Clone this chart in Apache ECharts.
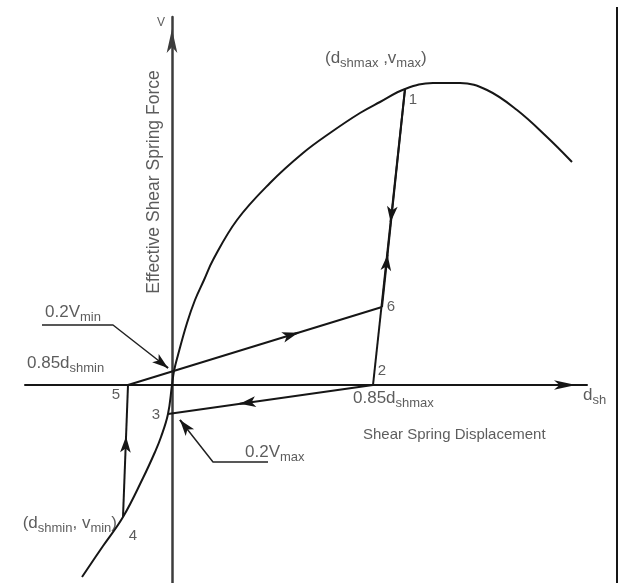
<!DOCTYPE html>
<html>
<head>
<meta charset="utf-8">
<script src="https://cdn.jsdelivr.net/npm/echarts@6/dist/echarts.min.js"></script>
<style>
html, body { margin: 0; padding: 0; background: #fff; }
#chart { width: 628px; height: 583px; }
</style>
</head>
<body>
<div id="chart"></div>
<script>
// backbone curve, shear displacement d and force v (diagram units)
var backboneD = [-9.0, -6.9, -4.9, -2.9, -1.7, -1.1, -0.4, 0, 0.2, 0.6, 1.5, 2.3, 3.2, 4.1, 6.5, 9.8, 13.1, 15.8, 18.8, 20.8, 23.3, 26.1, 28.8, 31.5, 34.5, 37.5, 40.0];
var backboneV = [-19.2, -16.1, -13.2, -9.3, -6.7, -5.2, -2.9, 0, 1.4, 3.0, 6.2, 8.5, 10.5, 12.5, 16.5, 20.2, 23.2, 25.2, 27.2, 28.3, 29.6, 30.2, 30.2, 29.5, 27.5, 24.8, 22.3];

// numbered points of the loop
var pointNames = ['1', '2', '3', '4', '5', '6'];
var pointD = [23.3, 20.1, -0.4, -4.9, -4.4, 21.0];
var pointV = [29.6, 0, -2.9, -13.2, 0, 7.8];

// straight legs of the loop (indices into the points) and where the direction arrow sits
var legFrom = [0, 1, 3, 4, 5];
var legTo = [1, 2, 4, 5, 0];
var arrowAt = [0.45, 0.65, 0.61, 0.67, 0.24];

// leader lines of the 0.2V notes
var leaderMinD = [-13.0, -5.9, -0.4];
var leaderMinV = [6.0, 6.0, 1.7];
var leaderMaxD = [9.6, 4.1, 0.8];
var leaderMaxV = [-7.7, -7.7, -3.5];

var chart = echarts.init(document.getElementById('chart'));

var ink = '#161616';
var textColor = '#333';
var font = '"Liberation Sans", Arial, Helvetica, sans-serif';

function pairs(ds, vs) {
    return ds.map(function (d, i) { return [d, vs[i]]; });
}

var rich = {
    m: { fontSize: 17, lineHeight: 24, verticalAlign: 'middle', color: textColor, fontFamily: font },
    s: { fontSize: 13, lineHeight: 10, verticalAlign: 'bottom', color: textColor, fontFamily: font }
};

// arrow head sitting on a segment, pointing from a to b
function arrowMark(x0, y0, x1, y1, t) {
    var dx = x1 - x0, dy = y1 - y0;
    var len = Math.sqrt(dx * dx + dy * dy);
    var tx = x0 + dx * t, ty = y0 + dy * t;
    return [{ coord: [tx - dx / len * 0.6, ty - dy / len * 0.6] }, { coord: [tx, ty] }];
}

var legSeries = legFrom.map(function (a, k) {
    var b = legTo[k];
    return {
        type: 'line',
        data: [[pointD[a], pointV[a]], [pointD[b], pointV[b]]],
        symbol: 'none',
        lineStyle: { color: ink, width: 2 },
        silent: true
    };
});

var arrows = legFrom.map(function (a, k) {
    var b = legTo[k];
    return arrowMark(pointD[a], pointV[a], pointD[b], pointV[b], arrowAt[k]);
});
var n = leaderMinD.length - 1;
arrows.push(arrowMark(leaderMinD[n - 1], leaderMinV[n - 1], leaderMinD[n], leaderMinV[n], 1));
arrows.push(arrowMark(leaderMaxD[n - 1], leaderMaxV[n - 1], leaderMaxD[n], leaderMaxV[n], 1));

function note(d, v, text, extra) {
    var label = { show: true, position: 'right', distance: 0, formatter: text, rich: rich };
    for (var k in extra) label[k] = extra[k];
    return { value: [d, v], label: label };
}

var notes = [
    note(-1.1, 36.2, '{v|V}', { position: 'inside', rich: { v: { fontSize: 12, color: textColor, fontFamily: font } } }),
    note(-1.8, 20.3, '{t|Effective Shear Spring Force}', { position: 'inside', rotate: 90, rich: { t: { fontSize: 17.5, color: textColor, fontFamily: font } } }),
    note(15.3, 32.7, '{m|(d}{s|shmax}{m| ,v}{s|max}{m|)}'),
    note(18.1, -1.3, '{m|0.85d}{s|shmax}'),
    note(41.1, -1.0, '{m|d}{s|sh}'),
    note(19.1, -5.0, '{t|Shear Spring Displacement}', { rich: { t: { fontSize: 15, color: textColor, fontFamily: font } } }),
    note(-12.7, 7.3, '{m|0.2V}{s|min}'),
    note(-14.5, 2.2, '{m|0.85d}{s|shmin}'),
    note(7.3, -6.7, '{m|0.2V}{s|max}'),
    note(-5.5, -13.8, '{m|(d}{s|shmin}{m|, v}{s|min}{m|)}', { position: 'left' })
];

var pointOffsets = [[8, 11], [9, -14], [-12, 1], [10, 19], [-12, 10], [9, 0]];

var option = {
    animation: false,
    backgroundColor: '#fff',
    grid: { left: 25, right: 41, top: 17, bottom: 0, outerBoundsMode: 'none' },
    xAxis: {
        type: 'value', min: -14.7, max: 41.5,
        axisLine: { onZero: true, lineStyle: { color: ink, width: 2 }, symbol: ['none', 'arrow'], symbolSize: [7, 22], symbolOffset: [0, -11] },
        axisTick: { show: false }, axisLabel: { show: false }, splitLine: { show: false }
    },
    yAxis: {
        type: 'value', min: -19.8, max: 36.8,
        axisLine: { onZero: true, lineStyle: { color: '#3c3c3c', width: 2.5 }, symbol: ['none', 'arrow'], symbolSize: [8, 24], symbolOffset: [0, -12] },
        axisTick: { show: false }, axisLabel: { show: false }, splitLine: { show: false }
    },
    graphic: [{
        type: 'line', shape: { x1: 617, y1: 7, x2: 617, y2: 583 },
        style: { stroke: ink, lineWidth: 2 }, silent: true
    }],
    series: [
        {
            type: 'line',
            data: pairs(backboneD, backboneV),
            smooth: 0.4,
            symbol: 'none',
            lineStyle: { color: ink, width: 2 },
            silent: true,
            markLine: {
                silent: true,
                symbol: ['none', 'arrow'],
                symbolSize: [8, 16],
                label: { show: false },
                lineStyle: { color: ink, width: 2, type: 'solid' },
                emphasis: { disabled: true },
                data: arrows
            }
        },
        {
            type: 'line', data: pairs(leaderMinD, leaderMinV), symbol: 'none',
            lineStyle: { color: '#222', width: 1.5 }, silent: true
        },
        {
            type: 'line', data: pairs(leaderMaxD, leaderMaxV), symbol: 'none',
            lineStyle: { color: '#222', width: 1.5 }, silent: true
        }
    ].concat(legSeries).concat([
        {
            type: 'scatter',
            symbolSize: 0,
            clip: false,
            silent: true,
            data: pointNames.map(function (name, i) {
                return {
                    value: [pointD[i], pointV[i]],
                    label: {
                        show: true, position: 'inside', offset: pointOffsets[i],
                        formatter: name, fontSize: 15, color: textColor, fontFamily: font
                    }
                };
            })
        },
        {
            type: 'scatter',
            symbolSize: 0,
            clip: false,
            silent: true,
            data: notes
        }
    ])
};

chart.setOption(option);
</script>
</body>
</html>
